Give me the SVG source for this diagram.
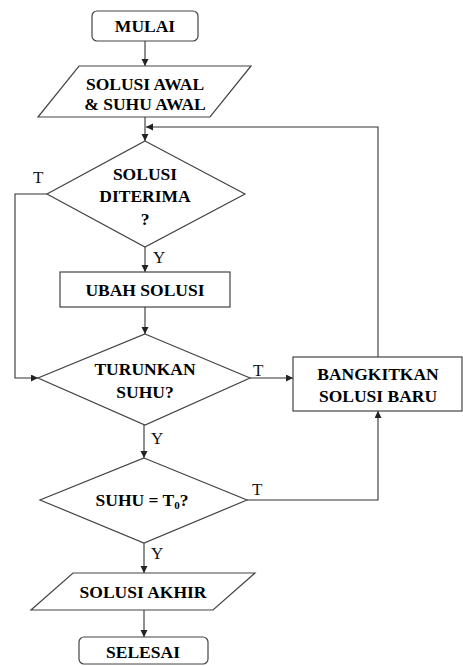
<svg xmlns="http://www.w3.org/2000/svg" width="463" height="666" viewBox="0 0 463 666">
<style>
.box{fill:#fff;stroke:#444;stroke-width:1.2}
.con{fill:none;stroke:#333;stroke-width:1.1}
.t{font-family:"Liberation Serif","Times New Roman","DejaVu Serif",serif;font-weight:bold;font-size:17.5px;fill:#000;text-anchor:middle}
.l{font-family:"Liberation Serif","Times New Roman","DejaVu Serif",serif;font-size:17px;fill:#111}
</style>
<defs>
<marker id="ah" markerUnits="userSpaceOnUse" markerWidth="8" markerHeight="8" refX="7" refY="3.5" orient="auto">
<path d="M0,0 L7,3.5 L0,7 z" fill="#222"/>
</marker>
</defs>
<g id="connectors">
<path class="con" d="M145,41 V66" marker-end="url(#ah)"/>
<path class="con" d="M145,117 V141" marker-end="url(#ah)"/>
<path class="con" d="M378,357 V127 H146" marker-end="url(#ah)"/>
<path class="con" d="M47,194 H15 V378 H38" marker-end="url(#ah)"/>
<path class="con" d="M145,247 V272" marker-end="url(#ah)"/>
<path class="con" d="M145,307 V334" marker-end="url(#ah)"/>
<path class="con" d="M250,378 H293" marker-end="url(#ah)"/>
<path class="con" d="M144,425 V458" marker-end="url(#ah)"/>
<path class="con" d="M247,500 H378 V411" marker-end="url(#ah)"/>
<path class="con" d="M144,543 V573" marker-end="url(#ah)"/>
<path class="con" d="M144,610 V637" marker-end="url(#ah)"/>
<text class="l" x="33" y="183">T</text>
<text class="l" x="153" y="263">Y</text>
<text class="l" x="253" y="376">T</text>
<text class="l" x="151" y="444">Y</text>
<text class="l" x="252" y="495">T</text>
<text class="l" x="151" y="559">Y</text>
</g>
<g id="mulai">
<rect class="box" x="92" y="11" width="106" height="30" rx="5"/>
<text class="t" x="145" y="32">MULAI</text>
</g>
<g id="solusi-awal">
<polygon class="box" points="79,66 251,66 210,117 38,117"/>
<text class="t" x="145" y="90">SOLUSI AWAL</text>
<text class="t" x="145" y="110">&amp; SUHU AWAL</text>
</g>
<g id="solusi-diterima">
<polygon class="box" points="145,141 245,194 145,247 47,194"/>
<text class="t" x="145" y="180">SOLUSI</text>
<text class="t" x="145" y="202">DITERIMA</text>
<text class="t" x="145" y="225">?</text>
</g>
<g id="ubah-solusi">
<rect class="box" x="60" y="272" width="170" height="35"/>
<text class="t" x="145" y="296">UBAH SOLUSI</text>
</g>
<g id="turunkan-suhu">
<polygon class="box" points="145,334 250,378 145,425 38,378"/>
<text class="t" x="145" y="375">TURUNKAN</text>
<text class="t" x="145" y="398">SUHU?</text>
</g>
<g id="bangkitkan">
<rect class="box" x="293" y="357" width="169" height="54"/>
<text class="t" x="378" y="380">BANGKITKAN</text>
<text class="t" x="378" y="402">SOLUSI BARU</text>
</g>
<g id="suhu-t0">
<polygon class="box" points="144,458 247,500 144,543 40,500"/>
<text class="t" x="142" y="506">SUHU = T<tspan font-size="11" dy="3">0</tspan><tspan dy="-3">?</tspan></text>
</g>
<g id="solusi-akhir">
<polygon class="box" points="73,573 255,573 213,610 31,610"/>
<text class="t" x="143" y="598">SOLUSI AKHIR</text>
</g>
<g id="selesai">
<rect class="box" x="79" y="637" width="129" height="27" rx="5"/>
<text class="t" x="143" y="658">SELESAI</text>
</g>
</svg>
